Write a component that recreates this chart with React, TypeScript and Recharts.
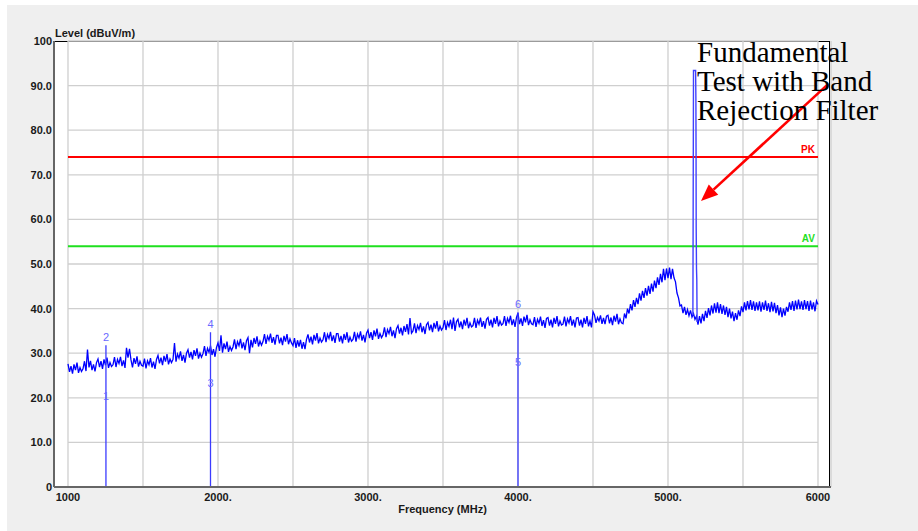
import React from "react";
import { LineChart, Line, XAxis, YAxis, CartesianGrid, ReferenceLine, ReferenceDot } from "recharts";

// spectrum trace, 10 MHz steps from 1000 to 6000 MHz (dBuV/m)
const traceStart = 1000;
const traceStep = 10;
const traceLevel = [
  27.6, 25.8, 27.1, 25.4, 27.5, 26.2, 27.9, 25.6, 26.8, 25.9,
  26.5, 28.2, 26.0, 30.8, 26.8, 28.3, 26.2, 27.5, 25.9, 27.9,
  28.7, 26.9, 28.2, 26.5, 28.6, 27.3, 29.0, 26.7, 27.9, 27.0,
  27.4, 29.1, 26.9, 28.6, 27.7, 29.2, 27.1, 28.4, 26.7, 31.2,
  29.0, 31.0, 28.5, 26.8, 28.9, 27.6, 29.3, 27.0, 28.2, 27.3,
  27.1, 28.8, 26.6, 28.3, 27.4, 28.9, 26.8, 28.1, 26.5, 28.6,
  29.5, 27.7, 29.0, 27.3, 29.4, 28.1, 29.8, 27.5, 28.7, 27.9,
  28.6, 32.3, 28.1, 29.8, 28.9, 30.4, 28.3, 29.6, 27.9, 30.0,
  30.8, 29.0, 30.3, 28.6, 30.7, 29.4, 31.1, 28.8, 30.0, 29.1,
  29.9, 31.6, 29.4, 31.1, 30.2, 31.7, 29.6, 30.9, 29.2, 31.3,
  32.3, 30.5, 34.0, 30.1, 32.2, 30.9, 32.6, 30.3, 31.5, 30.6,
  31.4, 33.1, 30.9, 32.6, 31.7, 33.2, 31.1, 32.4, 30.7, 32.8,
  33.5, 30.0, 33.0, 31.3, 33.4, 32.1, 33.8, 31.5, 32.7, 31.8,
  32.6, 34.3, 32.1, 33.8, 32.9, 34.4, 32.3, 33.6, 31.9, 34.0,
  34.0, 32.2, 33.5, 31.8, 33.9, 32.6, 34.3, 32.0, 33.2, 32.3,
  31.7, 33.4, 31.2, 32.9, 31.5, 33.0, 31.0, 32.5, 30.9, 33.1,
  34.2, 32.4, 33.7, 32.0, 34.1, 32.8, 34.5, 32.2, 33.4, 32.5,
  33.0, 34.7, 32.5, 34.2, 33.3, 34.8, 32.7, 34.0, 32.3, 34.4,
  34.4, 32.6, 33.9, 32.2, 34.3, 33.0, 34.7, 32.4, 33.6, 32.7,
  33.1, 34.8, 32.6, 34.3, 33.4, 34.9, 32.8, 34.1, 32.4, 34.5,
  35.2, 33.4, 34.7, 33.0, 35.1, 33.8, 35.5, 33.2, 34.4, 33.5,
  34.1, 35.8, 33.6, 35.3, 34.4, 35.9, 33.8, 35.1, 33.4, 35.5,
  36.2, 34.4, 35.7, 34.0, 36.1, 34.8, 36.5, 34.2, 37.9, 34.5,
  35.0, 36.7, 34.5, 36.2, 35.3, 36.8, 34.7, 36.0, 34.3, 36.4,
  36.9, 35.1, 36.4, 34.7, 36.8, 35.5, 37.2, 34.9, 36.1, 35.2,
  35.7, 37.4, 35.2, 36.9, 36.0, 37.5, 35.4, 38.0, 35.0, 37.1,
  37.6, 35.8, 37.1, 35.4, 37.5, 36.2, 37.9, 35.6, 36.8, 35.9,
  36.2, 37.9, 35.7, 37.4, 36.5, 38.0, 35.9, 37.2, 35.5, 37.6,
  38.0, 36.2, 37.5, 35.8, 37.9, 36.6, 38.3, 36.0, 37.2, 36.3,
  36.6, 38.3, 36.1, 37.8, 36.9, 38.4, 36.3, 37.6, 35.9, 38.0,
  39.0, 36.5, 37.8, 36.1, 38.2, 36.9, 38.6, 36.3, 37.5, 36.6,
  36.4, 38.1, 35.9, 37.6, 36.7, 38.2, 36.1, 37.4, 35.7, 37.8,
  38.0, 36.2, 37.5, 35.8, 37.9, 36.6, 38.3, 36.0, 37.2, 36.3,
  36.5, 38.2, 36.0, 37.7, 36.8, 38.3, 36.2, 37.5, 35.8, 37.9,
  38.0, 36.2, 37.5, 35.8, 37.9, 36.6, 38.3, 36.0, 37.2, 35.8,
  39.3, 38.6, 36.8, 38.0, 37.2, 38.5, 36.6, 37.9, 36.5, 38.3,
  38.5, 36.7, 38.0, 36.3, 38.4, 37.1, 38.8, 36.5, 37.7, 36.8,
  36.6, 38.9, 37.8, 40.0, 38.9, 41.0, 39.6, 41.9, 40.4, 42.4,
  41.0, 43.4, 41.8, 44.0, 42.4, 44.6, 42.9, 45.1, 43.3, 45.6,
  43.8, 46.3, 44.6, 47.0, 45.3, 47.8, 45.9, 48.9, 46.4, 49.0,
  46.8, 49.2, 46.6, 48.9, 46.9, 46.0, 43.5, 42.4, 40.6, 40.8,
  39.0, 40.4, 38.6, 39.8, 38.4, 39.6, 38.1, 38.9, 37.6, 38.3,
  36.4, 38.3, 36.7, 38.8, 37.2, 39.5, 37.9, 40.1, 38.5, 40.7,
  38.9, 41.2, 39.1, 41.4, 39.0, 41.0, 38.8, 40.7, 38.6, 40.4,
  38.1, 40.0, 37.8, 39.3, 37.2, 39.0, 37.5, 39.6, 38.3, 40.5,
  39.2, 41.4, 39.6, 41.7, 39.8, 41.9, 39.7, 41.6, 39.5, 41.4,
  39.6, 41.6, 39.3, 41.4, 39.7, 41.8, 39.5, 41.2, 39.2, 41.5,
  39.4, 41.3, 39.0, 40.8, 38.5, 40.3, 38.1, 40.0, 38.4, 40.4,
  39.3, 41.4, 39.7, 41.7, 39.5, 41.8, 39.8, 42.0, 39.9, 41.6,
  39.7, 41.9, 39.9, 41.7, 39.5, 41.8, 39.8, 41.4, 39.4, 41.7,
  40.9,
];

// fundamental (band rejection filter) spike
const spikeFreq = [5166, 5170, 5184, 5186, 5187, 5188, 5190, 5192, 5194];
const spikeLevel = [38.5, 93.4, 93.4, 87.0, 76.0, 58.0, 49.0, 46.5, 37.0];

// markers
const markerNo = ["1", "2", "3", "4", "5", "6"];
const markerFreq = [1253, 1253, 1950, 1950, 4000, 4000];
const markerLevel = [20.3, 31.8, 23.4, 34.7, 28.0, 39.2];
const markerIsPeak = [false, true, false, true, false, true];

// limits
const limitNames = ["PK", "AV"];
const limitLevels = [74, 54];
const limitColors = ["#ff0000", "#1fe01f"];

// ticks
const xTicks = [1000, 1500, 2000, 2500, 3000, 3500, 4000, 4500, 5000, 5500, 6000];
const xTickLabels: Record<number, string> = { 1000: "1000", 2000: "2000.", 3000: "3000.", 4000: "4000.", 5000: "5000.", 6000: "6000" };
const yTicks = [0, 10, 20, 30, 40, 50, 60, 70, 80, 90, 100];
const yTickLabels = ["0", "10.0", "20.0", "30.0", "40.0", "50.0", "60.0", "70.0", "80.0", "90.0", "100"];

// annotation arrow (tail -> head)
const arrowFrom = { f: 6060, v: 90.1 };
const arrowTo = { f: 5220, v: 64.1 };

const traceData = traceLevel.map((v, i) => ({ f: traceStart + i * traceStep, v }));
const spikeData = spikeFreq.map((f, i) => ({ f, v: spikeLevel[i] }));

const axisFont = { fontSize: 11, fontWeight: 700, fill: "#1a1a1a", fontFamily: "Arial, 'Liberation Sans', sans-serif" };

const Arrow = (p: any) => {
  const { x1, y1, x2, y2 } = p;
  const ang = Math.atan2(y2 - y1, x2 - x1);
  const len = 17;
  const hw = 7;
  const bx = x2 - len * Math.cos(ang);
  const by = y2 - len * Math.sin(ang);
  const px = -Math.sin(ang) * hw;
  const py = Math.cos(ang) * hw;
  return (
    <g>
      <line x1={x1} y1={y1} x2={bx} y2={by} stroke="#ff0000" strokeWidth={2.6} />
      <polygon points={`${x2},${y2} ${bx + px},${by + py} ${bx - px},${by - py}`} fill="#ff0000" />
    </g>
  );
};

export default function App() {
  return (
    <div style={{ position: "absolute", left: 0, top: 0, width: 918, height: 531, background: "#fff", overflow: "hidden" }}>
      <div style={{ position: "absolute", left: 7, top: 5, width: 911, height: 526, background: "#efefef" }} />
      <div
        style={{
          position: "absolute", left: 54, top: 41, width: 776, height: 446, background: "#fff",
          borderTop: "1px solid #000", borderRight: "1px solid #000", boxSizing: "border-box",
        }}
      />
      <div style={{ position: "absolute", left: 55, top: 26, fontSize: 11, fontWeight: 700, color: "#1a1a1a", fontFamily: "Arial, 'Liberation Sans', sans-serif", lineHeight: "14px" }}>
        Level (dBuV/m)
      </div>
      <div style={{ position: "absolute", left: 0, top: 0 }}>
        <LineChart width={918} height={531} margin={{ top: 41, right: 87, bottom: 14, left: 8 }}>
          <CartesianGrid x={68} y={41} width={750} height={446} stroke="#cfcfcf" strokeWidth={1.3} />
          <XAxis
            type="number"
            dataKey="f"
            domain={[906.7, 6086.7]}
            allowDataOverflow
            ticks={xTicks}
            tickFormatter={(v: number) => xTickLabels[v] ?? ""}
            tick={axisFont}
            tickLine={false}
            tickSize={0}
            tickMargin={6}
            height={30}
            axisLine={{ stroke: "#666", strokeWidth: 2 }}
            label={{ value: "Frequency (MHz)", position: "insideBottom", offset: 4, style: axisFont }}
          />
          <YAxis
            type="number"
            dataKey="v"
            domain={[0, 100]}
            ticks={yTicks}
            tickFormatter={(v: number) => yTickLabels[yTicks.indexOf(v)] ?? ""}
            tick={axisFont}
            tickLine={false}
            tickSize={0}
            tickMargin={2}
            width={46}
            axisLine={{ stroke: "#666", strokeWidth: 2 }}
          />
          {limitLevels.map((lv, i) => (
            <ReferenceLine
              key={limitNames[i]}
              segment={[{ x: 1000, y: lv }, { x: 6000, y: lv }]}
              stroke={limitColors[i]}
              strokeWidth={2}
            />
          ))}
          {limitLevels.map((lv, i) => (
            <ReferenceDot
              key={"l" + limitNames[i]}
              x={6000}
              y={lv}
              r={0}
              shape={(p: any) => (
                <text x={p.cx - 3} y={p.cy - 4} textAnchor="end" fontSize={10} fontWeight={700} fill={limitColors[i]} fontFamily="Arial, sans-serif">
                  {limitNames[i]}
                </text>
              )}
            />
          ))}
          <Line data={traceData} dataKey="v" stroke="#0000ff" strokeWidth={1.3} dot={false} isAnimationActive={false} />
          <Line data={spikeData} dataKey="v" stroke="#4040ff" strokeWidth={1.4} dot={false} isAnimationActive={false} />
          {markerFreq.map((f, i) =>
            markerIsPeak[i] ? (
              <ReferenceLine key={"m" + i} segment={[{ x: f, y: 0 }, { x: f, y: markerLevel[i] }]} stroke="#3b3bff" strokeWidth={1.3} />
            ) : null
          )}
          {markerFreq.map((f, i) => (
            <ReferenceDot
              key={"n" + i}
              x={f}
              y={markerLevel[i]}
              r={0}
              shape={(p: any) => (
                <text
                  x={p.cx}
                  y={markerIsPeak[i] ? p.cy - 4 : p.cy + 4}
                  textAnchor="middle"
                  fontSize={11}
                  fill="#6a6aff"
                  fontFamily="Arial, sans-serif"
                >
                  {markerNo[i]}
                </text>
              )}
            />
          ))}
          <ReferenceLine
            segment={[{ x: arrowFrom.f, y: arrowFrom.v }, { x: arrowTo.f, y: arrowTo.v }]}
            ifOverflow="visible"
            shape={Arrow}
          />
        </LineChart>
      </div>
      <div
        style={{
          position: "absolute", left: 697, top: 38, fontSize: 29, lineHeight: "29px", color: "#000",
          fontFamily: "'Liberation Serif', 'Times New Roman', serif", whiteSpace: "nowrap",
        }}
      >
        Fundamental
        <br />
        Test with Band
        <br />
        Rejection Filter
      </div>
    </div>
  );
}
